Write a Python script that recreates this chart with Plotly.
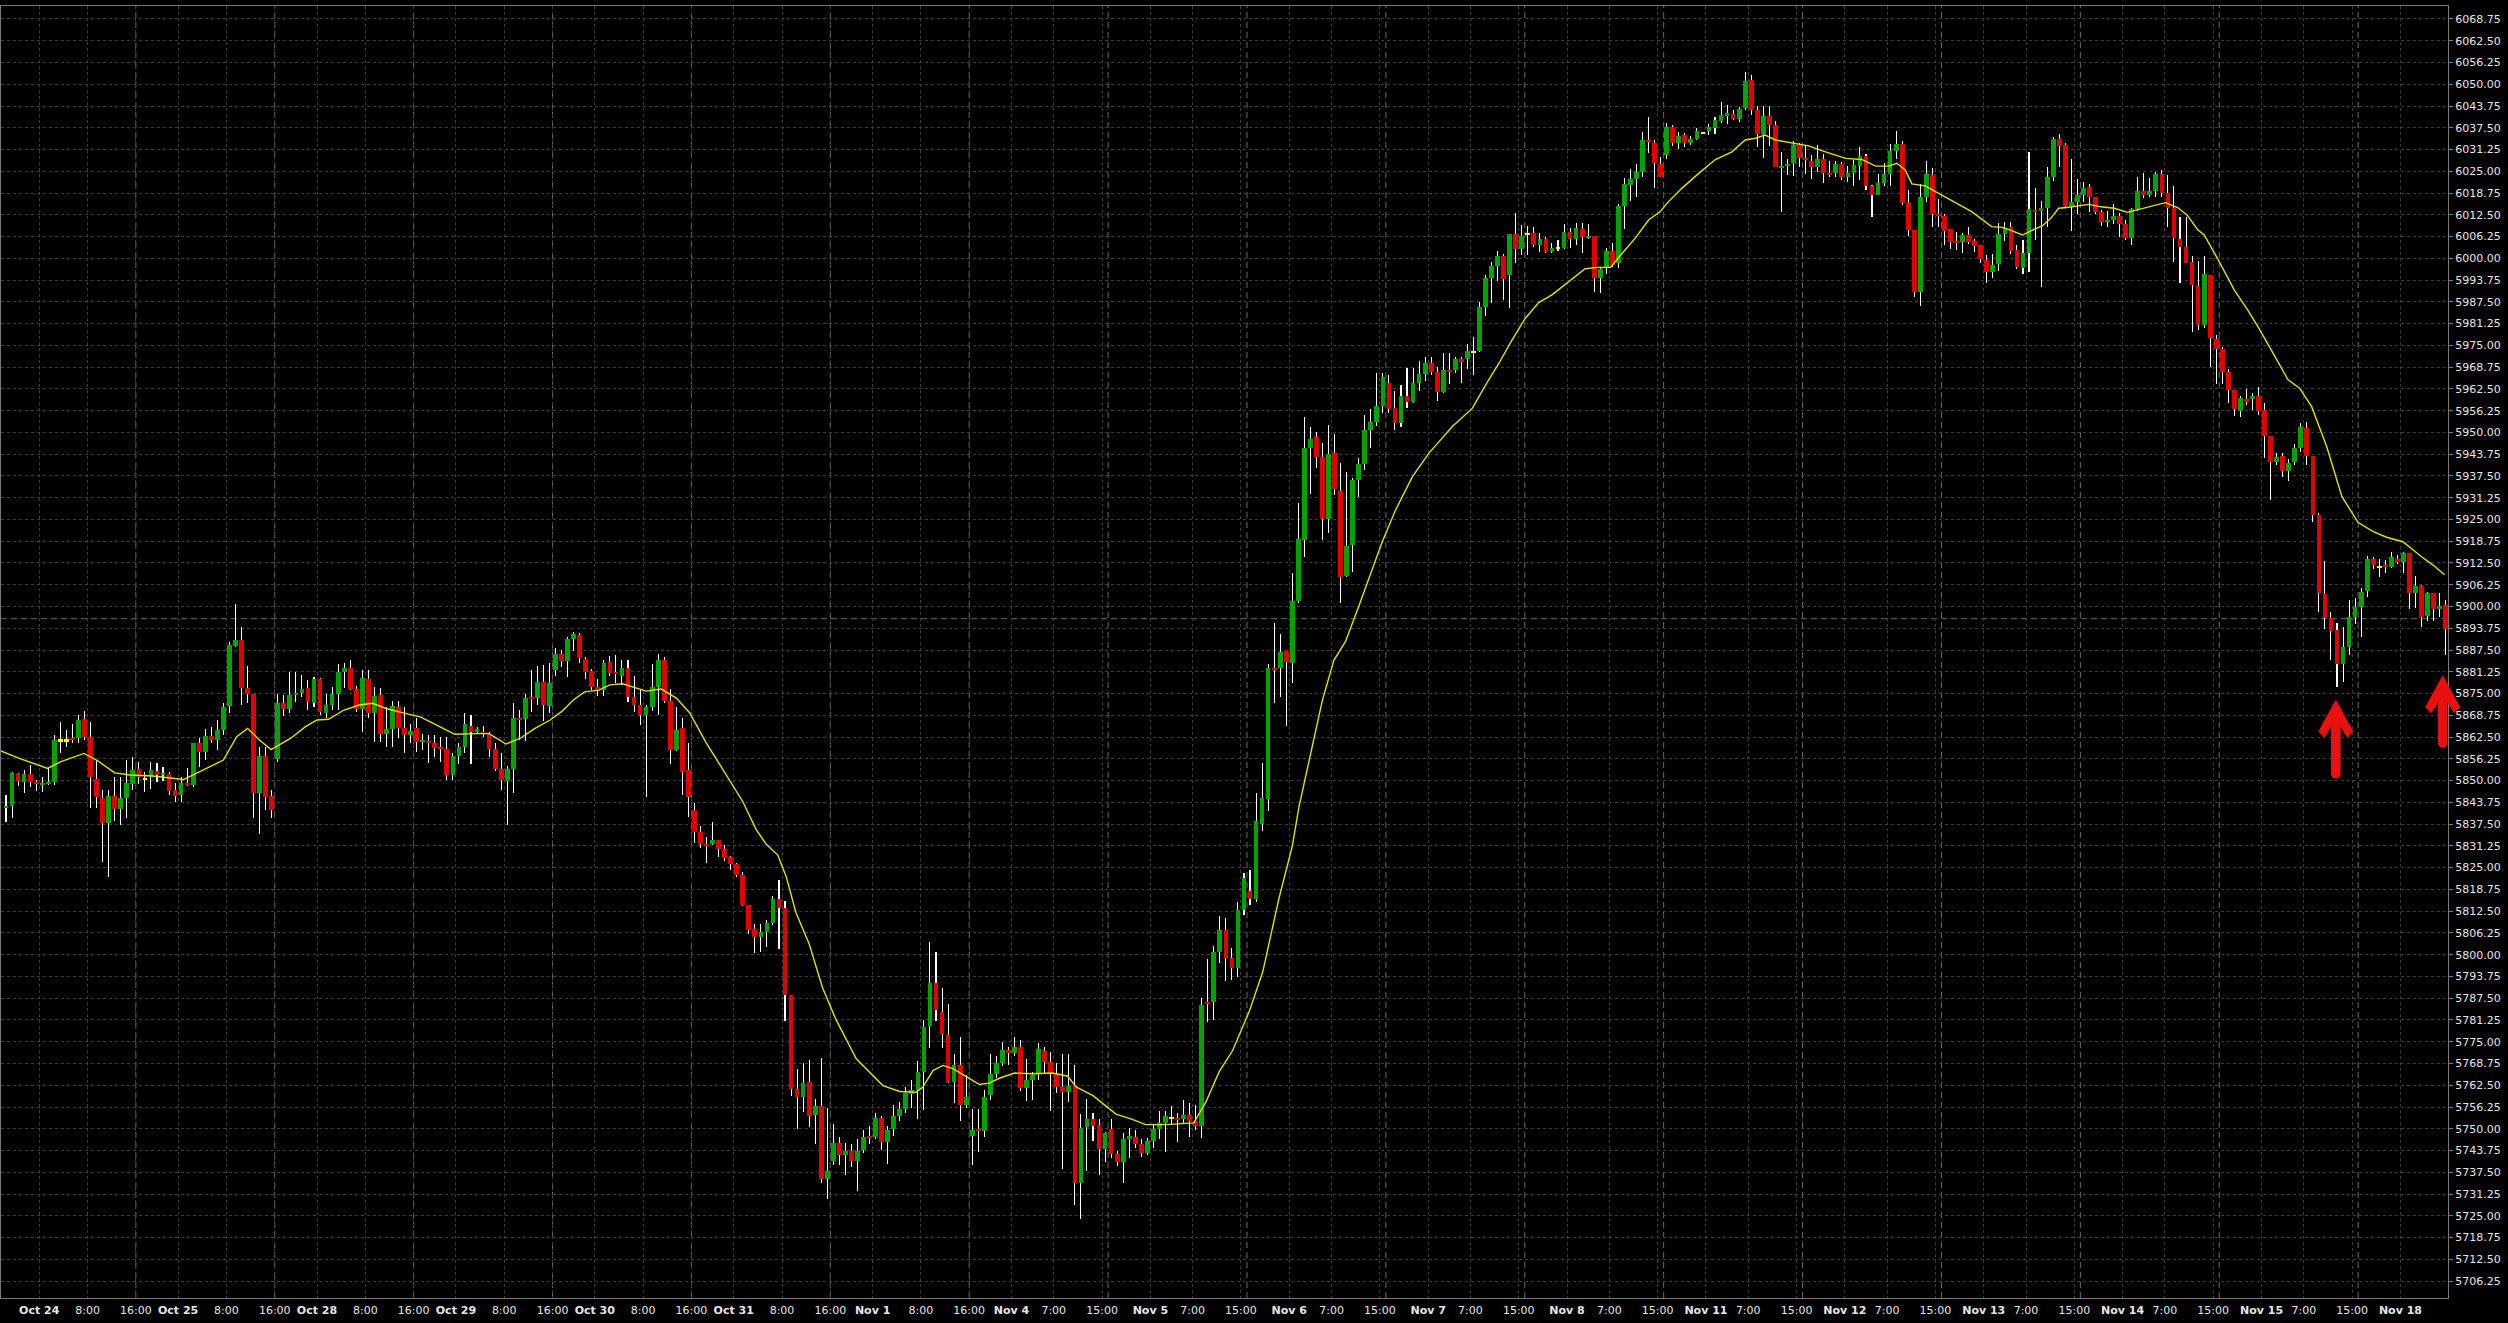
import plotly.graph_objects as go

# ---------------- data (hourly candles, bar index 0..404) ----------------
opens = [
 5842.0, 5842.7, 5851.9, 5849.7, 5851.9, 5849.7, 5849.0, 5849.0, 5849.6, 5861.6,
 5861.6, 5862.2, 5862.1, 5867.6, 5862.4, 5850.6, 5845.1, 5837.7, 5845.5, 5841.9,
 5845.1, 5849.0, 5853.2, 5850.5, 5850.9, 5852.7, 5851.5, 5852.0, 5847.3, 5845.8,
 5849.4, 5848.8, 5860.7, 5858.3, 5862.9, 5861.8, 5864.5, 5871.4, 5888.7, 5890.4,
 5876.7, 5875.0, 5846.5, 5857.0, 5845.5, 5856.1, 5872.2, 5870.5, 5874.6, 5875.2,
 5876.5, 5872.3, 5879.1, 5869.5, 5871.7, 5875.0, 5881.3, 5882.3, 5876.3, 5870.7,
 5879.1, 5869.5, 5874.6, 5863.4, 5864.7, 5871.0, 5865.0, 5863.1, 5865.0, 5861.1,
 5861.4, 5860.9, 5859.7, 5859.1, 5851.6, 5857.0, 5859.7, 5865.6, 5864.0, 5864.0,
 5863.4, 5859.2, 5853.2, 5850.0, 5853.2, 5868.1, 5867.6, 5873.9, 5873.6, 5878.4,
 5871.4, 5881.7, 5886.3, 5884.4, 5890.6, 5891.8, 5884.8, 5881.4, 5876.9, 5876.0,
 5884.0, 5881.2, 5880.1, 5882.3, 5874.0, 5871.8, 5868.7, 5871.2, 5876.9, 5884.5,
 5872.9, 5858.9, 5865.0, 5853.0, 5841.5, 5835.2, 5831.8, 5831.8, 5832.8, 5830.3,
 5828.0, 5826.0, 5822.9, 5814.4, 5807.4, 5805.1, 5806.5, 5809.0, 5816.1, 5813.3,
 5788.3, 5761.4, 5759.1, 5763.3, 5753.9, 5756.5, 5735.7, 5740.6, 5745.9, 5742.5,
 5743.6, 5740.8, 5744.0, 5747.8, 5747.6, 5753.1, 5746.3, 5750.0, 5753.7, 5755.7,
 5760.0, 5761.0, 5766.4, 5779.4, 5791.9, 5783.5, 5776.9, 5763.3, 5768.2, 5756.7,
 5748.0, 5750.0, 5749.4, 5759.7, 5765.6, 5769.0, 5772.7, 5771.8, 5773.6, 5761.6,
 5763.9, 5766.1, 5772.4, 5769.1, 5765.8, 5762.0, 5760.5, 5762.3, 5734.3, 5750.6,
 5752.7, 5751.1, 5744.2, 5749.9, 5742.7, 5740.5, 5747.1, 5747.7, 5745.5, 5743.1,
 5746.5, 5750.0, 5751.7, 5753.2, 5753.0, 5752.7, 5754.0, 5752.1, 5750.7, 5786.3,
 5786.3, 5800.8, 5807.1, 5799.0, 5796.3, 5812.9, 5818.3, 5816.1, 5837.6, 5844.6,
 5882.4, 5882.4, 5887.3, 5883.9, 5901.7, 5919.1, 5945.5, 5948.6, 5943.0, 5925.0,
 5944.0, 5933.2, 5908.8, 5917.7, 5936.2, 5940.9, 5950.7, 5953.0, 5957.6, 5964.2,
 5957.0, 5952.8, 5960.5, 5958.6, 5964.3, 5966.9, 5969.9, 5967.3, 5961.7, 5968.0,
 5968.0, 5971.0, 5971.0, 5973.2, 5973.5, 5985.9, 5994.5, 5997.8, 6000.7, 5995.2,
 6007.0, 6002.8, 6007.0, 6007.2, 6003.9, 6005.5, 6001.7, 6003.0, 6003.1, 6007.5,
 6005.5, 6008.3, 6006.2, 6006.4, 5994.5, 5997.4, 6002.1, 5998.6, 6015.0, 6021.1,
 6022.8, 6024.9, 6034.0, 6033.0, 6027.1, 6029.7, 6037.6, 6033.0, 6035.3, 6033.2,
 6034.3, 6036.1, 6036.7, 6037.5, 6039.5, 6041.0, 6041.5, 6040.0, 6043.3, 6051.2,
 6042.6, 6035.7, 6040.9, 6038.3, 6026.1, 6026.5, 6027.5, 6032.6, 6028.9, 6028.0,
 6026.3, 6028.5, 6024.4, 6024.6, 6027.1, 6023.5, 6024.6, 6026.6, 6029.4, 6020.8,
 6018.2, 6021.6, 6024.2, 6030.9, 6032.8, 6015.8, 6008.1, 5990.4, 6017.5, 6024.0,
 6012.7, 6012.2, 6008.4, 6005.0, 6004.8, 6006.7, 6005.0, 6003.8, 5999.5, 5996.2,
 5998.4, 6007.0, 6008.9, 6002.4, 5997.1, 6001.4, 6013.9, 6013.7, 6014.6, 6023.5,
 6034.3, 6032.6, 6015.1, 6016.3, 6018.2, 6020.4, 6017.5, 6013.4, 6010.5, 6011.0,
 6012.2, 6009.9, 6005.9, 6014.1, 6019.4, 6018.2, 6019.4, 6024.2, 6018.9, 6014.6,
 6005.5, 6003.4, 5998.9, 5992.0, 5980.9, 5995.2, 5976.7, 5974.1, 5967.3, 5962.2,
 5956.2, 5959.5, 5959.5, 5960.5, 5956.4, 5949.0, 5941.6, 5943.2, 5939.0, 5941.6,
 5945.4, 5951.2, 5943.2, 5926.3, 5903.6, 5896.6, 5893.3, 5883.5, 5888.5, 5896.9,
 5899.8, 5904.6, 5913.7, 5911.4, 5911.9, 5911.4, 5913.7, 5912.9, 5915.3, 5904.0,
 5905.9, 5897.3, 5904.0, 5899.2, 5900.4]

highs = [
 5845.8, 5852.5, 5852.2, 5853.0, 5854.4, 5850.3, 5851.1, 5853.5, 5863.1, 5866.9,
 5864.5, 5866.4, 5868.8, 5870.0, 5866.9, 5855.9, 5847.3, 5847.3, 5851.1, 5851.1,
 5855.9, 5856.9, 5855.4, 5852.5, 5855.4, 5855.1, 5853.8, 5852.5, 5849.2, 5851.1,
 5853.5, 5860.9, 5862.1, 5864.7, 5865.5, 5867.4, 5872.2, 5889.9, 5900.7, 5894.2,
 5882.9, 5875.0, 5859.7, 5859.7, 5847.3, 5874.8, 5874.6, 5881.3, 5881.3, 5880.3,
 5878.9, 5879.8, 5879.4, 5875.0, 5876.9, 5883.5, 5883.7, 5884.6, 5877.1, 5881.7,
 5881.7, 5876.9, 5876.5, 5871.2, 5872.9, 5872.9, 5871.2, 5866.4, 5868.1, 5863.4,
 5863.1, 5863.1, 5862.6, 5862.6, 5857.8, 5860.7, 5869.3, 5868.8, 5865.5, 5865.6,
 5864.0, 5860.7, 5857.8, 5854.2, 5872.2, 5870.2, 5875.0, 5881.7, 5882.9, 5883.2,
 5883.7, 5888.0, 5887.5, 5891.3, 5892.8, 5892.3, 5885.6, 5882.0, 5879.2, 5884.6,
 5885.7, 5886.0, 5884.6, 5884.6, 5880.0, 5876.0, 5871.8, 5883.5, 5886.5, 5885.4,
 5876.3, 5871.0, 5868.0, 5860.8, 5843.7, 5837.1, 5833.9, 5838.0, 5832.8, 5831.5,
 5828.3, 5826.3, 5823.7, 5814.4, 5808.7, 5808.7, 5810.1, 5816.9, 5821.5, 5815.3,
 5788.5, 5767.3, 5769.0, 5769.8, 5758.5, 5770.4, 5755.9, 5751.4, 5747.6, 5745.9,
 5745.7, 5747.2, 5749.7, 5750.8, 5754.5, 5753.7, 5750.8, 5756.7, 5757.6, 5761.9,
 5763.9, 5769.6, 5781.3, 5803.6, 5800.8, 5790.3, 5785.8, 5771.5, 5776.4, 5765.3,
 5755.6, 5755.6, 5761.0, 5771.5, 5771.0, 5774.9, 5773.5, 5776.4, 5775.4, 5769.9,
 5766.4, 5774.5, 5773.6, 5772.0, 5768.9, 5771.6, 5771.6, 5768.3, 5754.2, 5758.5,
 5754.6, 5752.7, 5749.2, 5752.7, 5743.7, 5748.7, 5750.2, 5749.6, 5747.1, 5747.3,
 5751.5, 5755.0, 5755.2, 5756.4, 5754.6, 5758.3, 5757.4, 5756.7, 5787.6, 5798.8,
 5802.5, 5811.0, 5810.5, 5801.9, 5815.0, 5823.4, 5824.3, 5846.4, 5855.1, 5883.5,
 5895.3, 5892.2, 5887.3, 5909.7, 5929.6, 5954.3, 5951.7, 5950.0, 5947.0, 5952.1,
 5949.5, 5941.1, 5938.7, 5936.8, 5942.8, 5955.0, 5956.6, 5967.0, 5967.2, 5966.5,
 5962.0, 5963.6, 5968.6, 5968.6, 5970.6, 5971.8, 5971.8, 5968.9, 5972.9, 5972.9,
 5971.6, 5971.6, 5975.4, 5977.5, 5987.6, 5995.2, 5999.0, 6002.2, 6001.3, 6007.0,
 6012.9, 6009.6, 6009.3, 6009.1, 6007.2, 6006.2, 6004.3, 6005.3, 6009.9, 6008.6,
 6010.1, 6010.1, 6009.9, 6006.4, 5997.6, 6002.9, 6004.3, 6015.6, 6023.0, 6025.6,
 6027.1, 6036.4, 6040.7, 6034.0, 6029.2, 6038.8, 6038.3, 6036.4, 6036.1, 6035.1,
 6037.3, 6036.4, 6038.6, 6040.5, 6045.0, 6044.1, 6042.6, 6043.6, 6053.5, 6052.7,
 6043.8, 6043.8, 6043.8, 6039.5, 6030.6, 6028.4, 6033.8, 6033.2, 6032.3, 6029.7,
 6032.6, 6030.0, 6028.1, 6028.1, 6027.8, 6026.5, 6028.2, 6031.9, 6030.0, 6021.1,
 6024.2, 6027.3, 6032.8, 6036.7, 6033.8, 6019.6, 6008.1, 6021.4, 6028.1, 6025.9,
 6017.0, 6012.7, 6008.4, 6007.7, 6007.4, 6009.1, 6005.7, 6003.8, 6001.0, 6001.3,
 6010.1, 6010.3, 6010.3, 6003.8, 6005.3, 6030.6, 6020.1, 6016.6, 6026.1, 6034.8,
 6035.7, 6033.0, 6028.4, 6022.7, 6022.0, 6021.3, 6017.7, 6013.9, 6013.7, 6015.6,
 6013.1, 6011.0, 6014.6, 6023.3, 6024.4, 6023.0, 6024.9, 6025.4, 6023.9, 6020.8,
 6011.8, 6011.8, 6000.7, 5999.3, 6000.7, 5995.2, 5978.0, 5974.6, 5968.1, 5962.2,
 5960.5, 5962.4, 5961.2, 5963.0, 5958.5, 5949.0, 5944.2, 5944.2, 5942.3, 5946.7,
 5952.8, 5953.1, 5943.2, 5926.9, 5913.2, 5898.5, 5895.4, 5894.0, 5901.9, 5902.5,
 5905.2, 5914.5, 5914.3, 5913.6, 5913.4, 5915.8, 5914.8, 5915.8, 5915.5, 5908.8,
 5906.2, 5904.3, 5904.0, 5904.0, 5901.9]

lows = [
 5838.2, 5839.4, 5848.4, 5846.5, 5848.2, 5847.1, 5846.7, 5848.7, 5848.7, 5857.8,
 5859.7, 5860.9, 5860.7, 5861.6, 5842.0, 5842.0, 5826.7, 5822.2, 5838.4, 5837.2,
 5839.4, 5847.3, 5849.0, 5846.8, 5847.7, 5849.7, 5849.9, 5845.8, 5843.9, 5843.9,
 5848.5, 5848.2, 5854.0, 5855.9, 5860.7, 5858.7, 5863.1, 5869.3, 5888.4, 5871.7,
 5872.2, 5839.4, 5834.8, 5841.5, 5839.4, 5855.4, 5868.5, 5869.5, 5872.6, 5874.1,
 5870.2, 5871.0, 5868.8, 5868.1, 5870.4, 5870.4, 5876.5, 5876.0, 5869.8, 5864.0,
 5867.9, 5861.1, 5861.1, 5859.7, 5859.7, 5862.1, 5858.0, 5860.7, 5858.3, 5858.8,
 5855.0, 5856.8, 5855.4, 5850.1, 5850.1, 5854.7, 5857.8, 5854.7, 5863.4, 5862.6,
 5856.8, 5852.8, 5847.3, 5837.2, 5846.3, 5861.6, 5861.4, 5869.8, 5871.7, 5867.2,
 5869.3, 5880.0, 5882.7, 5879.8, 5887.3, 5883.7, 5879.3, 5876.0, 5874.3, 5874.4,
 5880.1, 5878.0, 5877.5, 5872.6, 5869.8, 5866.1, 5845.4, 5870.1, 5868.7, 5872.3,
 5854.7, 5858.5, 5846.0, 5839.6, 5832.0, 5830.6, 5826.3, 5831.5, 5828.0, 5826.9,
 5824.4, 5822.4, 5813.9, 5805.9, 5800.6, 5800.8, 5802.1, 5808.5, 5801.7, 5780.9,
 5759.3, 5750.0, 5754.8, 5750.6, 5745.7, 5734.4, 5729.8, 5739.7, 5739.7, 5736.6,
 5739.1, 5732.1, 5743.1, 5745.7, 5747.2, 5743.8, 5740.0, 5748.0, 5752.2, 5754.4,
 5755.9, 5752.9, 5755.4, 5773.3, 5780.9, 5773.3, 5763.1, 5757.4, 5752.2, 5755.9,
 5739.7, 5743.4, 5747.6, 5758.2, 5764.5, 5768.1, 5768.4, 5770.8, 5760.8, 5758.0,
 5758.3, 5764.1, 5766.1, 5755.2, 5760.4, 5738.4, 5757.7, 5728.0, 5724.0, 5737.8,
 5746.5, 5736.8, 5740.5, 5741.7, 5739.2, 5734.3, 5741.7, 5744.6, 5741.8, 5742.5,
 5744.6, 5747.1, 5743.3, 5751.5, 5746.2, 5751.5, 5747.7, 5749.6, 5747.4, 5780.7,
 5781.3, 5797.5, 5792.3, 5792.8, 5793.6, 5811.5, 5814.3, 5815.0, 5835.5, 5841.4,
 5872.3, 5874.1, 5865.8, 5877.9, 5901.0, 5914.3, 5932.3, 5939.7, 5919.1, 5921.2,
 5932.0, 5900.9, 5908.6, 5910.0, 5931.4, 5939.2, 5945.4, 5951.9, 5955.7, 5955.7,
 5950.7, 5951.7, 5956.9, 5958.4, 5962.0, 5964.9, 5966.5, 5959.1, 5961.2, 5963.9,
 5967.0, 5964.3, 5968.1, 5966.5, 5973.2, 5983.4, 5987.3, 5993.6, 5988.0, 5985.6,
 5998.6, 6001.0, 6001.0, 6003.2, 6001.9, 6001.6, 6001.4, 6002.2, 6002.6, 6002.9,
 6003.8, 6001.6, 6005.5, 5990.4, 5990.1, 5995.5, 5997.6, 5997.1, 6008.3, 6016.6,
 6017.7, 6023.3, 6030.4, 6020.1, 6023.3, 6028.5, 6032.3, 6031.3, 6032.1, 6032.6,
 6034.0, 6035.7, 6035.4, 6035.7, 6038.8, 6038.6, 6039.7, 6039.3, 6042.6, 6041.2,
 6031.9, 6028.7, 6032.3, 6026.1, 6013.4, 6024.0, 6023.7, 6026.1, 6024.2, 6022.7,
 6024.9, 6021.7, 6023.5, 6023.3, 6022.5, 6022.0, 6020.8, 6022.5, 6019.6, 6012.0,
 6018.2, 6020.8, 6020.8, 6028.4, 6015.4, 6006.4, 5988.8, 5986.3, 6016.3, 6008.9,
 6009.1, 6003.9, 6002.6, 6002.4, 6001.6, 6004.1, 6001.9, 5998.6, 5993.0, 5994.3,
 5996.5, 6005.1, 6001.3, 5996.8, 5995.5, 5996.2, 6005.3, 5991.7, 6008.9, 6022.3,
 6026.1, 6014.8, 6008.0, 6012.7, 6016.3, 6013.4, 6012.7, 6009.3, 6008.9, 6010.0,
 6006.0, 6005.3, 6003.8, 6013.7, 6017.2, 6017.5, 6017.7, 6017.5, 6009.1, 5999.0,
 5992.8, 5998.6, 5978.9, 5979.4, 5979.9, 5968.7, 5963.9, 5963.9, 5958.5, 5954.7,
 5954.5, 5957.9, 5956.4, 5955.0, 5942.6, 5930.6, 5940.6, 5937.1, 5936.1, 5940.7,
 5944.5, 5940.7, 5924.4, 5898.5, 5893.4, 5884.5, 5876.8, 5878.4, 5886.1, 5895.0,
 5891.3, 5902.8, 5910.7, 5908.6, 5909.5, 5911.0, 5912.2, 5909.7, 5899.2, 5899.5,
 5894.2, 5895.9, 5895.7, 5896.9, 5886.1]

closes = [
 5842.8, 5852.2, 5849.8, 5851.9, 5849.7, 5849.1, 5849.3, 5849.6, 5861.6, 5861.6,
 5861.6, 5861.7, 5867.4, 5862.6, 5851.1, 5845.3, 5837.7, 5845.5, 5841.9, 5845.1,
 5849.4, 5853.0, 5850.9, 5850.5, 5853.0, 5851.5, 5852.2, 5847.1, 5845.7, 5849.2,
 5848.7, 5860.7, 5858.3, 5862.9, 5861.8, 5864.5, 5871.2, 5888.9, 5890.4, 5876.7,
 5875.0, 5846.5, 5857.0, 5845.3, 5841.5, 5872.2, 5870.5, 5874.6, 5875.2, 5876.4,
 5872.6, 5879.1, 5869.8, 5871.7, 5875.0, 5881.3, 5882.3, 5876.3, 5870.7, 5879.6,
 5869.5, 5874.3, 5863.4, 5864.7, 5871.4, 5865.0, 5863.1, 5864.3, 5861.1, 5861.6,
 5860.7, 5859.5, 5859.0, 5851.6, 5857.0, 5859.7, 5866.2, 5864.0, 5864.7, 5863.4,
 5859.2, 5853.2, 5850.1, 5853.2, 5867.9, 5867.6, 5873.6, 5873.3, 5878.4, 5871.7,
 5878.1, 5886.3, 5884.4, 5890.6, 5892.1, 5885.1, 5881.3, 5876.9, 5876.0, 5883.9,
 5880.9, 5880.8, 5882.3, 5874.0, 5871.8, 5868.7, 5871.0, 5876.9, 5884.5, 5872.9,
 5858.9, 5864.6, 5852.5, 5845.4, 5835.2, 5831.8, 5831.3, 5832.8, 5830.3, 5827.8,
 5826.0, 5822.9, 5814.4, 5807.0, 5805.1, 5806.5, 5809.0, 5816.1, 5813.3, 5788.3,
 5761.4, 5759.1, 5763.1, 5753.7, 5756.5, 5735.7, 5738.0, 5745.9, 5742.5, 5743.6,
 5740.8, 5743.6, 5747.6, 5747.4, 5753.1, 5746.3, 5749.7, 5753.7, 5755.7, 5760.2,
 5761.0, 5766.4, 5779.2, 5791.9, 5784.0, 5777.2, 5763.3, 5768.2, 5756.7, 5759.0,
 5749.7, 5749.4, 5759.0, 5765.6, 5769.0, 5772.7, 5771.8, 5773.6, 5761.6, 5763.9,
 5765.4, 5772.9, 5769.1, 5766.1, 5762.0, 5760.5, 5762.3, 5734.3, 5750.2, 5752.7,
 5750.8, 5744.2, 5748.7, 5742.7, 5740.5, 5747.1, 5748.0, 5745.5, 5743.1, 5746.5,
 5750.0, 5751.7, 5753.7, 5753.2, 5752.7, 5754.0, 5752.1, 5750.7, 5785.6, 5786.1,
 5800.8, 5807.1, 5799.0, 5796.3, 5812.9, 5822.1, 5816.1, 5838.3, 5844.9, 5882.2,
 5882.0, 5887.0, 5884.1, 5901.6, 5919.3, 5945.5, 5948.1, 5943.0, 5925.0, 5943.8,
 5933.7, 5908.6, 5917.4, 5936.3, 5940.9, 5950.7, 5953.0, 5957.6, 5965.9, 5956.6,
 5952.8, 5960.5, 5958.6, 5964.2, 5966.9, 5969.9, 5967.3, 5961.7, 5968.0, 5967.5,
 5971.0, 5970.5, 5973.4, 5973.2, 5985.9, 5994.5, 5997.8, 6000.7, 5994.2, 6007.0,
 6002.8, 6006.4, 6007.0, 6003.9, 6005.5, 6001.9, 6003.0, 6003.0, 6007.5, 6005.5,
 6008.6, 6006.2, 6006.4, 5994.5, 5997.0, 6002.1, 5998.1, 6015.0, 6021.4, 6022.8,
 6024.9, 6034.0, 6033.5, 6027.5, 6023.5, 6037.6, 6033.2, 6035.1, 6033.2, 6034.4,
 6036.6, 6036.1, 6037.8, 6039.7, 6041.2, 6041.8, 6040.0, 6042.8, 6050.9, 6042.6,
 6035.7, 6040.9, 6038.3, 6026.3, 6026.5, 6027.1, 6032.6, 6028.9, 6028.4, 6026.3,
 6028.4, 6024.6, 6024.0, 6027.1, 6023.5, 6024.6, 6026.8, 6029.4, 6020.9, 6018.2,
 6021.6, 6024.2, 6030.9, 6032.8, 6015.8, 6008.1, 5990.4, 6017.5, 6024.2, 6012.7,
 6012.2, 6008.0, 6004.8, 6004.5, 6006.7, 6004.8, 6003.6, 5999.8, 5996.2, 5998.1,
 6007.0, 6008.6, 6002.2, 5997.4, 6001.6, 6014.1, 6013.4, 6014.5, 6023.5, 6034.3,
 6032.4, 6015.1, 6016.1, 6018.2, 6020.1, 6017.5, 6013.4, 6010.5, 6011.0, 6012.2,
 6010.0, 6005.9, 6014.1, 6019.4, 6018.2, 6019.4, 6024.2, 6018.9, 6014.5, 6005.9,
 6003.4, 5998.8, 5992.3, 5980.9, 5995.5, 5977.2, 5974.1, 5967.4, 5962.2, 5956.6,
 5959.8, 5958.8, 5960.4, 5956.3, 5949.0, 5941.6, 5943.0, 5939.0, 5941.3, 5945.4,
 5951.7, 5943.2, 5926.3, 5904.0, 5896.6, 5893.1, 5883.5, 5888.5, 5896.9, 5899.8,
 5904.3, 5913.7, 5911.9, 5911.4, 5911.4, 5914.1, 5912.9, 5915.3, 5904.0, 5905.9,
 5897.1, 5904.0, 5899.2, 5900.2, 5893.5]

# moving-average line (bar index, price)
ma_bar = [
 -1.0, 2.2, 6.9, 9.0, 12.9, 15.0, 18.0, 20.5, 24.3, 29.4, 33.2, 36.0, 38.2, 40.0,
 42.0, 43.9, 47.1, 49.6, 51.5, 53.4, 55.9, 58.5, 60.7, 62.9, 66.1, 68.6, 71.8, 74.3,
 78.1, 80.0, 82.8, 85.1, 87.6, 90.1, 92.0, 93.9, 95.8, 98.2, 100.0, 102.1, 106.0,
 108.5, 111.0, 113.2, 115.9, 119.8, 122.0, 124.2, 125.9, 127.8, 129.2, 130.8, 133.0,
 135.2, 137.4, 140.8, 143.0, 145.2, 148.0, 150.7, 151.8, 153.5, 155.1, 156.8, 159.0,
 161.2, 162.8, 164.5, 167.0, 170.0, 173.3, 175.8, 177.2, 180.0, 183.8, 186.5, 188.7,
 192.0, 196.7, 198.7, 200.9, 203.1, 205.9, 208.1, 210.8, 213.0, 214.1, 218.0, 219.9,
 221.8, 224.0, 226.2, 227.9, 230.1, 232.9, 235.6, 239.5, 242.8, 245.0, 247.2, 249.4,
 251.6, 253.8, 256.0, 258.2, 261.5, 263.7, 265.7, 267.6, 269.8, 272.0, 273.9, 275.3,
 277.5, 280.3, 283.0, 285.8, 288.0, 289.7, 291.3, 293.0, 295.7, 298.5, 301.3, 304.6,
 307.3, 309.6, 311.8, 313.1, 314.5, 315.6, 317.8, 320.0, 322.8, 325.5, 328.8, 330.5,
 331.9, 333.9, 335.8, 337.2, 338.6, 339.9, 341.3, 343.3, 344.9, 346.9, 349.1, 351.3,
 352.9, 354.6, 356.2, 357.6, 359.6, 361.2, 362.9, 364.0, 366.2, 369.0, 371.2, 372.9,
 375.1, 377.9, 379.8, 381.8, 384.3, 386.8, 389.5, 392.0, 394.2, 396.9, 400.0, 401.9,
 403.8]
ma_val = [
 5858.6, 5856.4, 5853.5, 5855.4, 5857.8, 5855.9, 5852.2, 5851.6, 5851.3, 5850.3,
 5853.5, 5855.9, 5862.6, 5865.0, 5861.6, 5858.9, 5862.1, 5865.5, 5867.4, 5867.6,
 5870.2, 5871.7, 5872.2, 5870.7, 5869.3, 5868.3, 5865.5, 5863.3, 5863.5, 5863.5,
 5860.5, 5862.1, 5865.0, 5867.4, 5869.8, 5873.1, 5875.5, 5876.0, 5877.5, 5877.8,
 5875.7, 5876.3, 5873.7, 5869.5, 5861.0, 5850.2, 5844.0, 5836.0, 5831.7, 5828.6,
 5822.4, 5812.1, 5803.1, 5790.6, 5781.5, 5770.1, 5766.2, 5762.4, 5760.7, 5760.5,
 5761.9, 5766.7, 5768.2, 5767.3, 5765.0, 5762.7, 5763.1, 5764.5, 5766.0, 5765.8,
 5766.0, 5765.1, 5762.0, 5759.5, 5754.2, 5752.7, 5751.2, 5751.2, 5751.7, 5757.7,
 5766.4, 5772.4, 5783.8, 5795.0, 5816.2, 5831.2, 5842.4, 5873.2, 5884.6, 5889.9,
 5900.0, 5910.5, 5918.6, 5927.7, 5937.3, 5944.0, 5951.7, 5956.9, 5963.6, 5969.8,
 5976.6, 5982.8, 5987.3, 5989.5, 5992.4, 5997.0, 5997.4, 5997.4, 6001.4, 6005.8,
 6011.0, 6013.4, 6016.3, 6020.1, 6024.4, 6028.3, 6030.6, 6034.0, 6034.5, 6035.4,
 6034.0, 6033.2, 6032.3, 6030.6, 6028.7, 6028.4, 6026.5, 6026.5, 6027.3, 6025.4,
 6021.4, 6020.8, 6018.7, 6015.8, 6013.4, 6009.1, 6008.9, 6008.1, 6006.7, 6008.3,
 6009.3, 6011.5, 6014.4, 6014.6, 6015.0, 6015.5, 6014.8, 6014.4, 6013.2, 6013.9,
 6014.6, 6015.3, 6016.0, 6014.6, 6012.4, 6008.3, 6006.7, 6000.0, 5990.9, 5985.2,
 5980.4, 5973.7, 5965.1, 5962.7, 5957.4, 5945.9, 5931.6, 5924.1, 5921.5, 5919.9,
 5918.6, 5914.3, 5911.9, 5909.1]

# time axis: 23 hourly bars per trading day, first day starts at bar 6
day_labels = ["Oct 24", "Oct 25", "Oct 28", "Oct 29", "Oct 30", "Oct 31", "Nov 1",
              "Nov 4", "Nov 5", "Nov 6", "Nov 7", "Nov 8", "Nov 11", "Nov 12",
              "Nov 13", "Nov 14", "Nov 15", "Nov 18"]
first_day_bar = 6
bars_per_day = 23
hours_before_dst = [(8, "8:00"), (16, "16:00")]
hours_after_dst = [(7, "7:00"), (15, "15:00")]
dst_day_index = 7          # from "Nov 4" the server clock shows 7:00 / 15:00
session_break_offset = 16  # daily session separator (long dashed line)

level_line_price = 5896.5           # grey dashed horizontal level
arrow_points = [(385.8, 5873.0, 77.5), (403.5, 5880.0, 71.0)]  # bar, price of tip, length px

# ---------------- styling ----------------
BG = "#000000"
UP = "#00a400"
DOWN = "#e00000"
DOJI = "#ffff00"
WICK = "#ffffff"
MA_COLOR = "#e1e100"
GRID = "#3c3c3c"
SEP = "#686868"
BORDER = "#7a7a7a"
TXT = "#e6e6e6"
ARROW = "#ea1010"
FONT = "DejaVu Sans"

x_range = [-0.83, 404.38]
y_range = [5701.39, 6072.48]

# ---------------- build candles ----------------
N = len(closes)
idx = list(range(N))
min_body = 0.5
bases, heights, colors = [], [], []
for i, (o, h, l, c) in enumerate(zip(opens, highs, lows, closes)):
    top, bot = max(o, c), min(o, c)
    if top - bot < min_body:
        mid = (top + bot) / 2.0
        top, bot = mid + min_body / 2.0, mid - min_body / 2.0
    bases.append(bot)
    heights.append(top - bot)
    colors.append(UP if c > o else (DOWN if c < o else DOJI))
wick_len = [h - l for h, l in zip(highs, lows)]

fig = go.Figure()
# wicks as very thin bars (rendered as crisp 1px white lines), bodies drawn on top
fig.add_trace(go.Bar(x=idx, y=wick_len, base=lows, width=0.01,
                     marker=dict(color=WICK, line=dict(width=0)), hoverinfo="skip"))
fig.add_trace(go.Bar(x=idx, y=heights, base=bases, width=0.78,
                     marker=dict(color=colors, line=dict(width=0)), hoverinfo="skip"))
fig.add_trace(go.Scatter(x=ma_bar, y=ma_val, mode="lines",
                         line=dict(color=MA_COLOR, width=1.4), hoverinfo="skip"))

# ---------------- x ticks ----------------
tickvals, ticktext = [], []
shapes = []
for k, d in enumerate(day_labels):
    b = first_day_bar + k * bars_per_day
    tickvals.append(b - 0.5)
    ticktext.append("<b>%s</b>" % d)
    if k == len(day_labels) - 1:
        break
    hrs = hours_before_dst if k < dst_day_index else hours_after_dst
    for off, lab in hrs:
        tickvals.append(b + off - 0.5)
        ticktext.append(lab)
    sx = b + session_break_offset - 0.5
    shapes.append(dict(type="line", xref="x", yref="paper", x0=sx, x1=sx, y0=0, y1=1,
                       line=dict(color=SEP, width=1, dash="6px,4px"), layer="below"))

shapes.append(dict(type="line", xref="paper", yref="y", x0=0, x1=1,
                   y0=level_line_price, y1=level_line_price,
                   line=dict(color=SEP, width=1, dash="6px,4px"), layer="below"))

# arrows (drawn in pixel units around the tip anchor)
def arrow_path(length):
    pts = [(0, 0), (17, -31), (11.5, -36.5), (4.3, -25), (4.3, -(length - 3.5)),
           (2.5, -length), (-2.5, -length), (-4.3, -(length - 3.5)), (-4.3, -25),
           (-11.5, -36.5), (-17, -31)]
    return "M" + " L".join("%.1f,%.1f" % p for p in pts) + " Z"

for bx, py, ln in arrow_points:
    xa = (bx - x_range[0]) / (x_range[1] - x_range[0])
    ya = (py - y_range[0]) / (y_range[1] - y_range[0])
    shapes.append(dict(type="path", xref="paper", yref="paper",
                       xsizemode="pixel", ysizemode="pixel", xanchor=xa, yanchor=ya,
                       path=arrow_path(ln), fillcolor=ARROW,
                       line=dict(color=ARROW, width=1), layer="above"))

fig.update_layout(
    width=2508, height=1323,
    margin=dict(l=1, r=60, t=6, b=25, pad=0),
    paper_bgcolor=BG, plot_bgcolor=BG,
    showlegend=False, barmode="overlay", bargap=0,
    hovermode=False, dragmode=False,
    shapes=shapes,
    font=dict(family=FONT, size=11, color=TXT),
    xaxis=dict(range=x_range, tickmode="array", tickvals=tickvals, ticktext=ticktext,
               showgrid=True, gridcolor=GRID, griddash="3px,3px", gridwidth=1,
               showline=True, linecolor=BORDER, linewidth=1, mirror=True,
               ticks="outside", ticklen=2, tickcolor="rgba(0,0,0,0)",
               tickfont=dict(family=FONT, size=11, color=TXT),
               zeroline=False, fixedrange=True),
    yaxis=dict(range=y_range, side="right", tick0=5700, dtick=6.25, tickformat=".2f",
               showgrid=True, gridcolor=GRID, griddash="3px,3px", gridwidth=1,
               showline=True, linecolor=BORDER, linewidth=1, mirror=True,
               ticks="outside", ticklen=4, tickcolor=BORDER,
               tickfont=dict(family=FONT, size=11, color=TXT),
               zeroline=False, fixedrange=True),
)

fig.write_html("out.html", config={"displayModeBar": False},
               post_script="document.body.style.margin='0';document.body.style.overflow='hidden';")
